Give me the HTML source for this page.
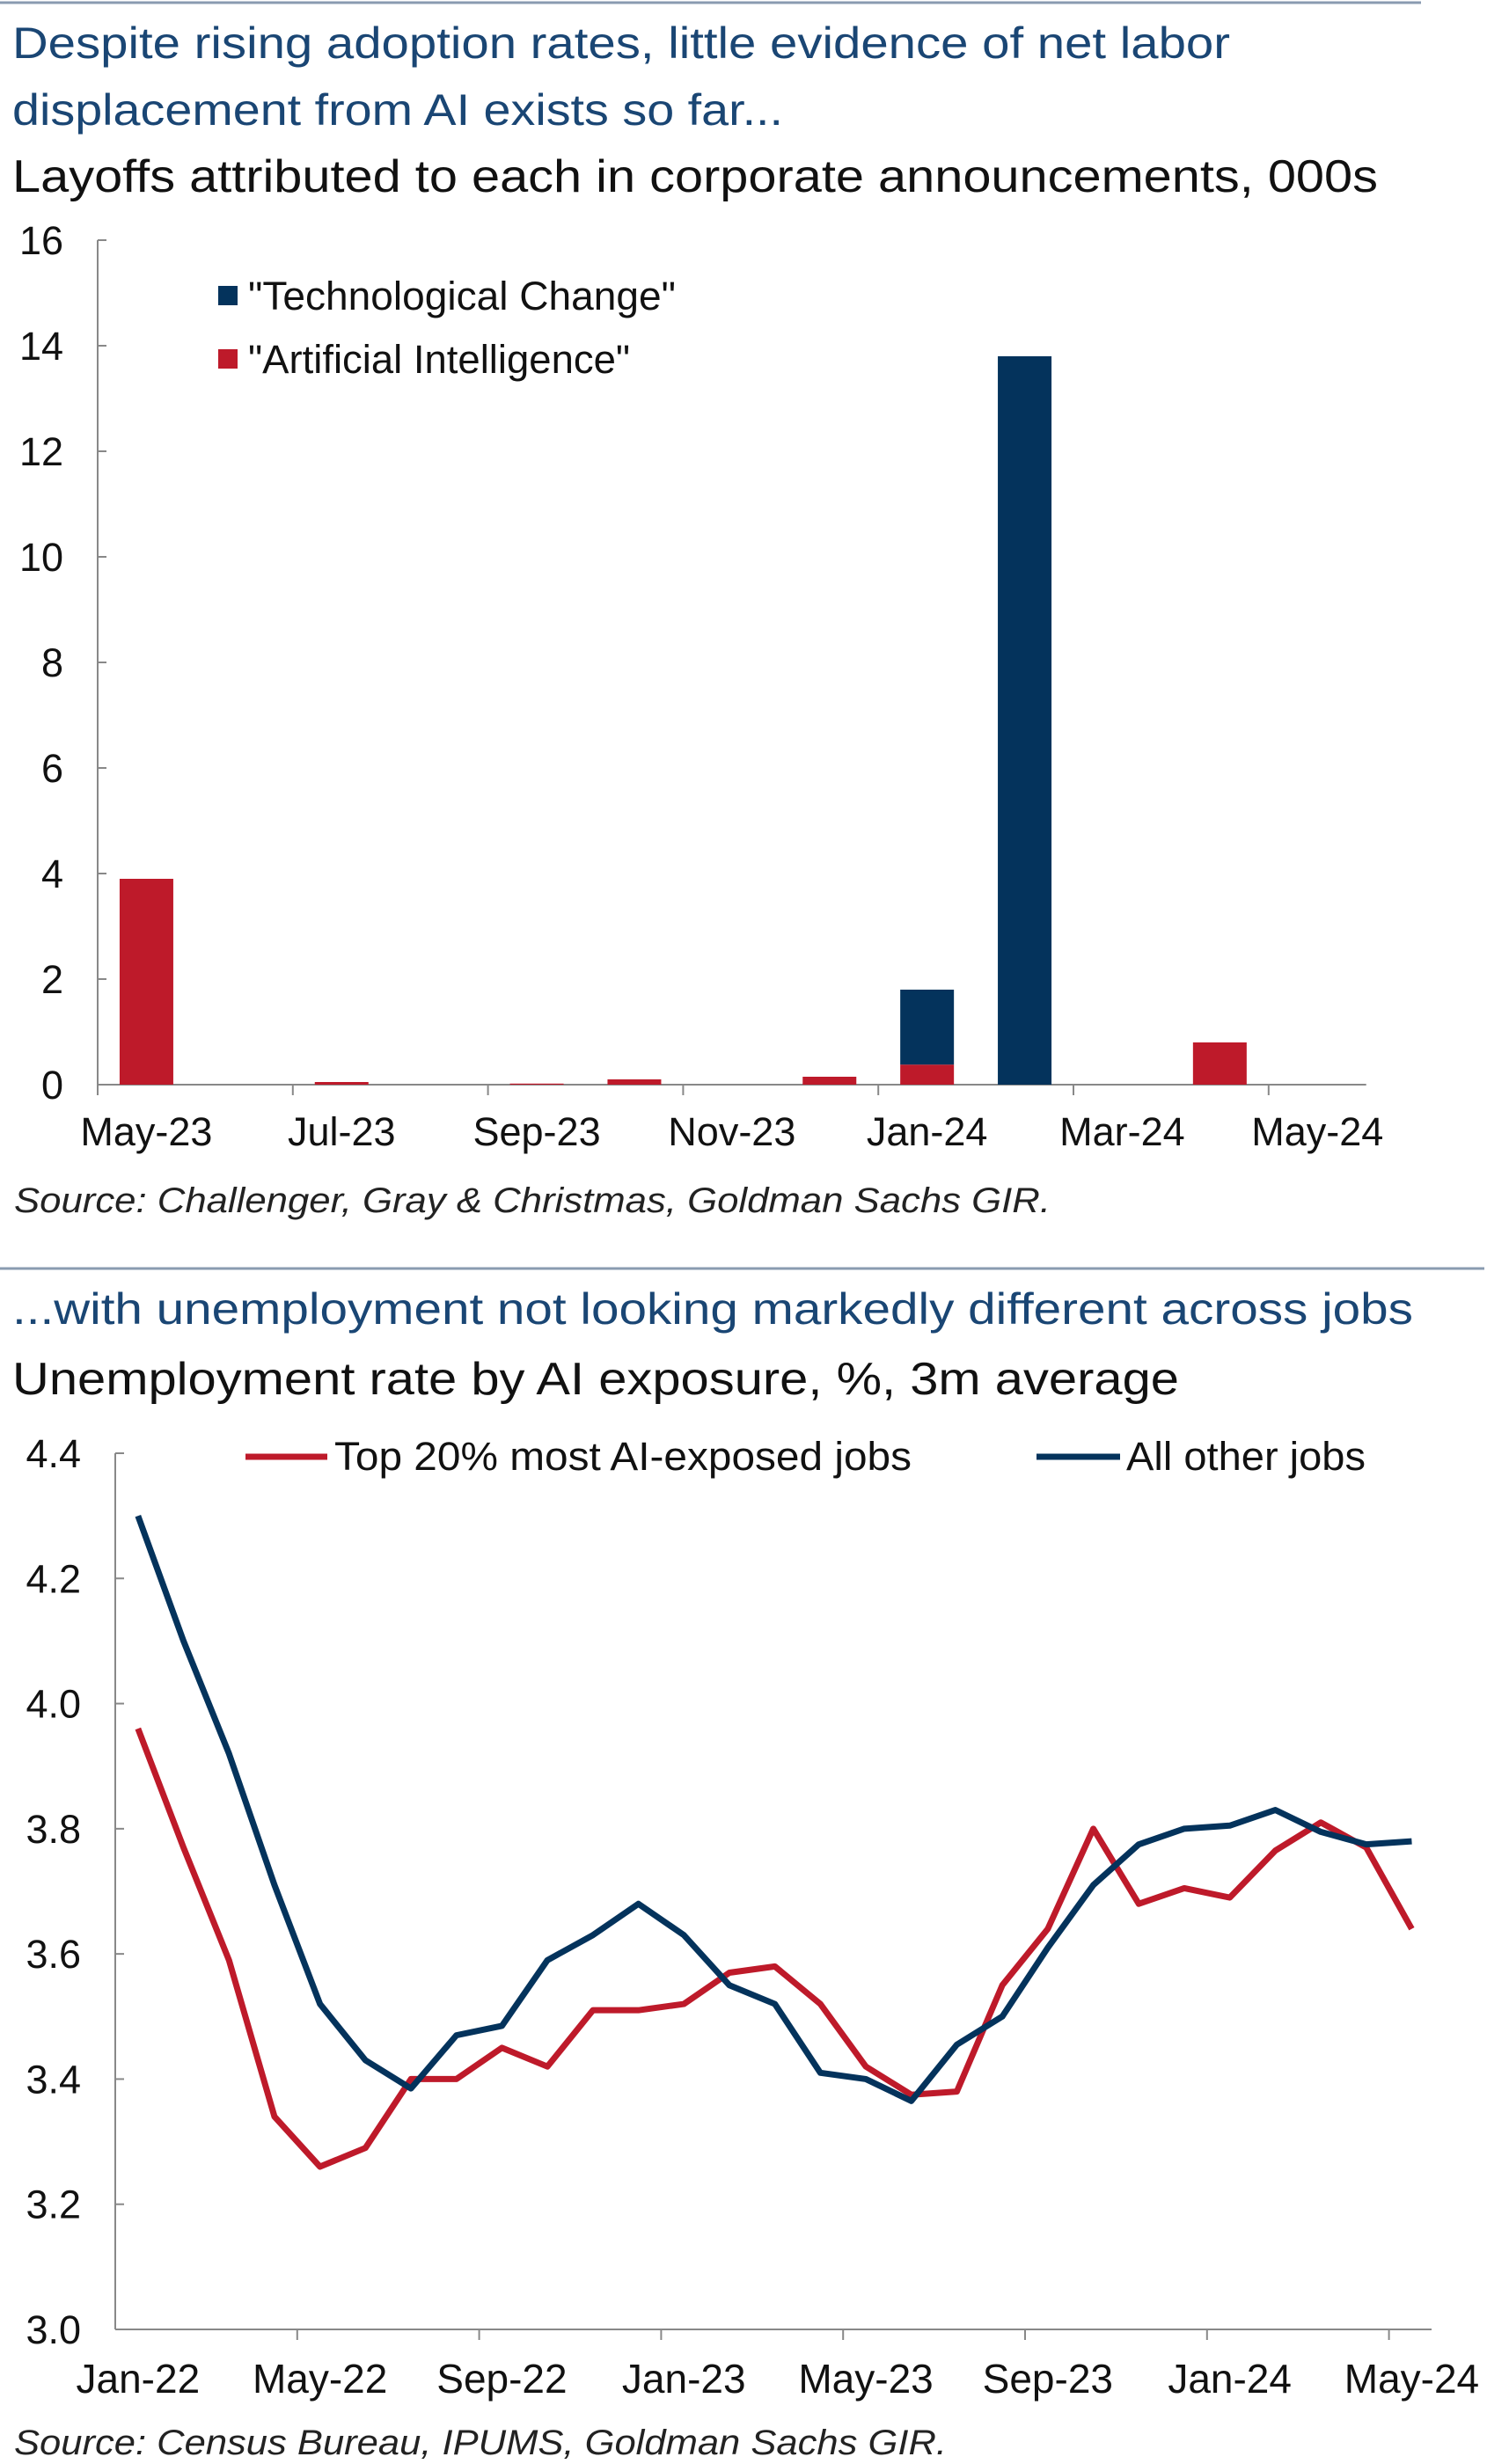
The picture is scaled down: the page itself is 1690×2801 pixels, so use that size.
<!DOCTYPE html>
<html><head><meta charset="utf-8"><style>
html,body{margin:0;padding:0;background:#fff}
svg{display:block}
text{font-family:"Liberation Sans",sans-serif}
</style></head><body>
<svg id="root" width="1690" height="2801" viewBox="0 0 1690 2801">
<line x1="0" y1="3" x2="1615" y2="3" stroke="#8a9bb0" stroke-width="3"/>
<text x="14" y="66" font-size="50" fill="#1a4674" textLength="1384" lengthAdjust="spacingAndGlyphs">Despite rising adoption rates, little evidence of net labor</text>
<text x="14" y="142" font-size="50" fill="#1a4674" textLength="876" lengthAdjust="spacingAndGlyphs">displacement from AI exists so far...</text>
<text x="14" y="218" font-size="52" fill="#111" textLength="1552" lengthAdjust="spacingAndGlyphs">Layoffs attributed to each in corporate announcements, 000s</text>
<g id="c1"></g>
<rect x="248" y="325" width="22" height="22" fill="#04335c"/>
<text x="282" y="352" font-size="45" fill="#111" textLength="486" lengthAdjust="spacingAndGlyphs">"Technological Change"</text>
<rect x="248" y="397" width="22" height="22" fill="#be1a2a"/>
<text x="282" y="424" font-size="45" fill="#111" textLength="434" lengthAdjust="spacingAndGlyphs">"Artificial Intelligence"</text>
<text x="16" y="1378" font-size="40" font-style="italic" fill="#222" textLength="1178" lengthAdjust="spacingAndGlyphs">Source: Challenger, Gray &amp; Christmas, Goldman Sachs GIR.</text>
<line x1="0" y1="1442" x2="1687" y2="1442" stroke="#8a9bb0" stroke-width="3"/>
<text x="14" y="1505" font-size="50" fill="#1a4674" textLength="1592" lengthAdjust="spacingAndGlyphs">...with unemployment not looking markedly different across jobs</text>
<text x="14" y="1585" font-size="52" fill="#111" textLength="1326" lengthAdjust="spacingAndGlyphs">Unemployment rate by AI exposure, %, 3m average</text>
<g id="c2"></g>
<line x1="279" y1="1656" x2="372" y2="1656" stroke="#be1a2a" stroke-width="7"/>
<text x="380" y="1671" font-size="45" fill="#111" textLength="656" lengthAdjust="spacingAndGlyphs">Top 20% most AI-exposed jobs</text>
<line x1="1178" y1="1656" x2="1273" y2="1656" stroke="#04335c" stroke-width="7"/>
<text x="1280" y="1671" font-size="45" fill="#111" textLength="272" lengthAdjust="spacingAndGlyphs">All other jobs</text>
<text x="16" y="2790" font-size="40" font-style="italic" fill="#222" textLength="1060" lengthAdjust="spacingAndGlyphs">Source: Census Bureau, IPUMS, Goldman Sachs GIR.</text>
</svg>
<script>
const NS="http://www.w3.org/2000/svg";
const barMonths=["May-23","Jun-23","Jul-23","Aug-23","Sep-23","Oct-23","Nov-23","Dec-23","Jan-24","Feb-24","Mar-24","Apr-24","May-24"];
const aiValues=[3.9,0,0.05,0,0.02,0.1,0,0.15,0.38,0,0,0.8,0];
const techValues=[0,0,0,0,0,0,0,0,1.42,13.8,0,0,0];
const barYTicks=[0,2,4,6,8,10,12,14,16];
const lineMonths=["Jan-22","Feb-22","Mar-22","Apr-22","May-22","Jun-22","Jul-22","Aug-22","Sep-22","Oct-22","Nov-22","Dec-22","Jan-23","Feb-23","Mar-23","Apr-23","May-23","Jun-23","Jul-23","Aug-23","Sep-23","Oct-23","Nov-23","Dec-23","Jan-24","Feb-24","Mar-24","Apr-24","May-24"];
const exposedValues=[3.96,3.77,3.59,3.34,3.26,3.29,3.40,3.40,3.45,3.42,3.51,3.51,3.52,3.57,3.58,3.52,3.42,3.375,3.38,3.55,3.64,3.80,3.68,3.705,3.69,3.765,3.81,3.77,3.64];
const otherValues=[4.30,4.10,3.92,3.71,3.52,3.43,3.385,3.47,3.485,3.59,3.63,3.68,3.63,3.55,3.52,3.41,3.40,3.365,3.455,3.50,3.61,3.71,3.775,3.80,3.805,3.83,3.795,3.775,3.78];
const lineYTicks=[3.0,3.2,3.4,3.6,3.8,4.0,4.2,4.4];

function mk(parent,tag,attrs){const e=document.createElementNS(NS,tag);for(const k in attrs)e.setAttribute(k,attrs[k]);parent.appendChild(e);return e;}

(function(){
const g=document.getElementById('c1');
const X0=111,W=110.9,Y0=1233,Y1=273,VMAX=16;
const y=v=>Y0-(v/VMAX)*(Y0-Y1);
const x=i=>X0+W*i;
let e=mk(g,'line',{x1:X0,y1:Y1,x2:X0,y2:Y0,stroke:'#888','stroke-width':2});


e=mk(g,'line',{x1:X0,y1:Y0,x2:X0+W*barMonths.length,y2:Y0,stroke:'#888','stroke-width':2});


barYTicks.forEach(t=>{
 mk(g,'line',{x1:X0,y1:y(t),x2:X0+10,y2:y(t),stroke:'#888','stroke-width':2});
 const tx=mk(g,'text',{x:72,y:y(t)+16,'font-size':45,'text-anchor':'end',fill:'#111'});tx.textContent=t;
 
 
});
barMonths.forEach((m,i)=>{
 if(i%2===0){
  mk(g,'line',{x1:x(i),y1:Y0,x2:x(i),y2:Y0+12,stroke:'#888','stroke-width':2});
  const tx=mk(g,'text',{x:x(i)+W/2,y:1302,'font-size':45,'text-anchor':'middle',fill:'#111'});tx.textContent=m;
  
  
 }
 const bw=61,bx=x(i)+W/2-bw/2;
 if(aiValues[i]>0){const r=mk(g,'rect',{x:bx,y:y(aiValues[i]),width:bw,height:Y0-y(aiValues[i]),fill:'#be1a2a'});
  
  }
 if(techValues[i]>0){const base=aiValues[i];const r=mk(g,'rect',{x:bx,y:y(base+techValues[i]),width:bw,height:y(base)-y(base+techValues[i]),fill:'#04335c'});
  
  }
});
})();

(function(){
const g=document.getElementById('c2');
const X0=131,W=51.7,Y0=2648,Y1=1652,VMIN=3.0,VMAX=4.4;
const y=v=>Y0-(v-VMIN)/(VMAX-VMIN)*(Y0-Y1);
const x=i=>X0+W*(i+0.5);
let e=mk(g,'line',{x1:X0,y1:Y1,x2:X0,y2:Y0,stroke:'#888','stroke-width':2});


e=mk(g,'line',{x1:X0,y1:Y0,x2:1627,y2:Y0,stroke:'#888','stroke-width':2});


lineYTicks.forEach(t=>{
 mk(g,'line',{x1:X0,y1:y(t),x2:X0+10,y2:y(t),stroke:'#888','stroke-width':2});
 const tx=mk(g,'text',{x:92,y:y(t)+16,'font-size':45,'text-anchor':'end',fill:'#111'});tx.textContent=t.toFixed(1);
 
 
});
lineMonths.forEach((m,i)=>{
 if(i%4===0){
  if(i>0)mk(g,'line',{x1:X0+W*i,y1:Y0,x2:X0+W*i,y2:Y0+12,stroke:'#888','stroke-width':2});
  const tx=mk(g,'text',{x:x(i),y:2720,'font-size':46,'text-anchor':'middle',fill:'#111'});tx.textContent=m;
  
  
 }
});
function series(vals,color,name){
 const p=mk(g,'polyline',{points:vals.map((v,i)=>x(i)+','+y(v)).join(' '),fill:'none',stroke:color,'stroke-width':7,'stroke-linejoin':'round'});
 
 
}
series(exposedValues,'#be1a2a','line-ai-exposed-jobs');
series(otherValues,'#04335c','line-all-other-jobs');
})();
</script>
</body></html>
